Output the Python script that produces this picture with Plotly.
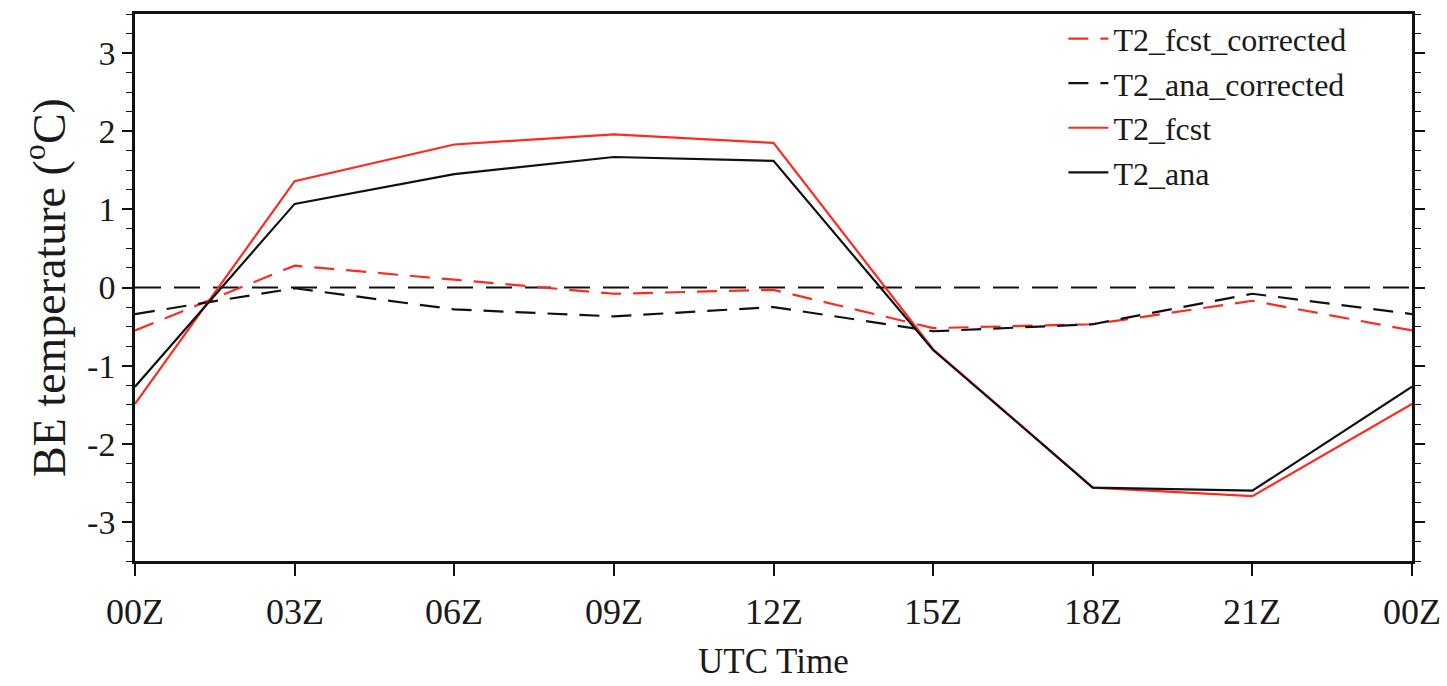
import plotly.graph_objects as go

# 3-hourly diurnal cycle of 2 m temperature bias (BE), wrapped back to 00Z
hours = [0, 3, 6, 9, 12, 15, 18, 21, 24]
tick_labels = ["00Z", "03Z", "06Z", "09Z", "12Z", "15Z", "18Z", "21Z", "00Z"]
y_ticks = [-3, -2, -1, 0, 1, 2, 3]
y_tick_labels = ["-3", "-2", "-1", "0", "1", "2", "3"]

t2_fcst_corrected = [-0.55, 0.28, 0.10, -0.08, -0.03, -0.52, -0.47, -0.17, -0.55]
t2_ana_corrected = [-0.34, -0.01, -0.28, -0.37, -0.25, -0.56, -0.47, -0.08, -0.34]
t2_fcst = [-1.49, 1.36, 1.83, 1.96, 1.85, -0.79, -2.56, -2.67, -1.49]
t2_ana = [-1.27, 1.07, 1.45, 1.67, 1.62, -0.80, -2.56, -2.60, -1.27]

RED = "#ff2a1f"
BLACK = "#111111"
TEXT = "#1a1a1a"
FONT = "Liberation Serif"

fig = go.Figure()

series = [
    ("T2_fcst_corrected", t2_fcst_corrected, RED, "20px,12px"),
    ("T2_ana_corrected", t2_ana_corrected, BLACK, "20px,12px"),
    ("T2_fcst", t2_fcst, RED, "solid"),
    ("T2_ana", t2_ana, BLACK, "solid"),
]
for name, vals, color, dash in series:
    fig.add_trace(go.Scatter(
        x=hours, y=vals, name=name, mode="lines",
        line=dict(color=color, width=2.2, dash=dash),
    ))

# zero reference line
fig.add_shape(type="line", xref="paper", yref="y", x0=0, x1=1, y0=0, y1=0,
              line=dict(color=BLACK, width=2.2, dash="26px,13px"), layer="below")

# x tick labels under the tick marks
for h, lab in zip(hours, tick_labels):
    fig.add_annotation(x=h, xref="x", y=0, yref="paper", text=lab, showarrow=False,
                       xanchor="center", yanchor="middle", yshift=-51,
                       font=dict(family=FONT, size=36, color=TEXT))

# x axis title
fig.add_annotation(x=0.5, xref="paper", y=0, yref="paper", text="UTC Time",
                   showarrow=False, xanchor="center", yanchor="middle", yshift=-100,
                   font=dict(family=FONT, size=35, color=TEXT))

fig.update_layout(
    width=1447, height=686,
    margin=dict(l=135, r=35, t=11, b=125),
    paper_bgcolor="white", plot_bgcolor="white",
    font=dict(family=FONT, color=TEXT, size=32),
    showlegend=True,
    legend=dict(
        x=0.727, y=1.005, xanchor="left", yanchor="top",
        bgcolor="rgba(0,0,0,0)", borderwidth=0,
        font=dict(family=FONT, size=32, color=TEXT),
        itemwidth=40, tracegroupgap=0,
    ),
    xaxis=dict(
        range=[0, 24], tickmode="array", tickvals=hours, showticklabels=False,
        ticks="outside", ticklen=12, tickwidth=1.5, tickcolor=BLACK,
        showline=True, linecolor=BLACK, linewidth=2.5, mirror=True,
        showgrid=False, zeroline=False,
    ),
    yaxis=dict(
        range=[-3.5, 3.5], tickmode="array", tickvals=y_ticks, ticktext=y_tick_labels,
        ticks="outside", ticklen=10, tickwidth=2, tickcolor=BLACK,
        minor=dict(dtick=0.25, ticks="outside", ticklen=6, tickwidth=1.2, tickcolor=BLACK),
        showline=True, linecolor=BLACK, linewidth=2.5, mirror="ticks",
        showgrid=False, zeroline=False,
        tickfont=dict(family=FONT, size=34),
        title=dict(text="BE temperature (<sup>o</sup>C)", font=dict(family=FONT, size=46), standoff=8),
    ),
)

fig.write_html("out.html")
